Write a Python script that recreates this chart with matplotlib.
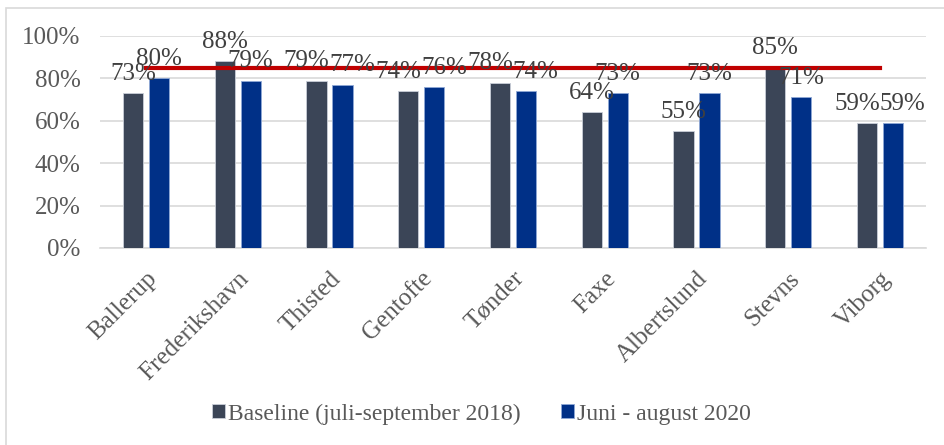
import matplotlib.pyplot as plt
import matplotlib.patches as patches
import numpy as np

kommuner = ['Ballerup', 'Frederikshavn', 'Thisted', 'Gentofte', 'Tønder',
            'Faxe', 'Albertslund', 'Stevns', 'Viborg']
baseline = [73, 88, 79, 74, 78, 64, 55, 85, 59]
juni_aug = [80, 79, 77, 76, 74, 73, 73, 71, 59]
maal = 85
yticks = [0, 20, 40, 60, 80, 100]

plt.rcParams['font.family'] = ['Liberation Serif', 'DejaVu Serif']
txt = '#595959'

fig = plt.figure(figsize=(9.44, 4.45), dpi=100)
ax = fig.add_axes([100 / 944, 1 - 248 / 445, 826 / 944, 212 / 445])

# chart frame (runs off the image to the right and bottom)
fig.patches.append(patches.Rectangle((6 / 944, -0.05), 1.1, 1 - 8 / 445 + 0.05,
                                     transform=fig.transFigure, fill=False,
                                     edgecolor='#D9D9D9', linewidth=1.2))

x = np.arange(len(kommuner))
w = 0.22
off = 0.142
b1 = ax.bar(x - off, baseline, w, color='#3B4557', edgecolor='#C9CED8',
            linewidth=0.6, label='Baseline (juli-september 2018)', zorder=3)
b2 = ax.bar(x + off, juni_aug, w, color='#003087', edgecolor='#8FA8D6',
            linewidth=0.6, label='Juni - august 2020', zorder=3)

# labels of nearly equal height get pushed apart, like Excel does
for i in range(len(kommuner)):
    nudge = 7 if abs(baseline[i] - juni_aug[i]) <= 6 else 0
    for bars, vals, sgn in ((b1, baseline, -1), (b2, juni_aug, 1)):
        r = bars[i]
        ax.annotate(f'{vals[i]}%', (r.get_x() + r.get_width() / 2, vals[i]),
                    xytext=(sgn * nudge, 6), textcoords='offset points',
                    ha='center', va='bottom', fontsize=18, color='#404040', zorder=5)

ax.plot([x[0], x[-1]], [maal, maal], color='#C00000', linewidth=3, zorder=4)

ax.set_xlim(-0.5, len(kommuner) - 0.5)
ax.set_ylim(0, 100)
ax.set_yticks(yticks)
ax.set_yticklabels([f'{t}%' for t in yticks], fontsize=18, color=txt)
ax.yaxis.grid(True, color='#D9D9D9', linewidth=1.2, zorder=0)
ax.tick_params(length=0, pad=14)
ax.set_xticks(x)
ax.set_xticklabels(kommuner, rotation=45, ha='right', rotation_mode='anchor',
                   fontsize=18, color=txt)
ax.tick_params(axis='x', pad=14)
for s in ['top', 'right', 'left']:
    ax.spines[s].set_visible(False)
ax.spines['bottom'].set_color('#D9D9D9')
ax.spines['bottom'].set_linewidth(1.2)

leg = fig.legend(loc='center', bbox_to_anchor=(0.51, 1 - 414 / 445), ncol=2,
                 frameon=False, fontsize=17, handlelength=0.55, handleheight=0.55,
                 handletextpad=0.15, columnspacing=1.7)
for t in leg.get_texts():
    t.set_color(txt)

fig.savefig('out.png', dpi=100)
